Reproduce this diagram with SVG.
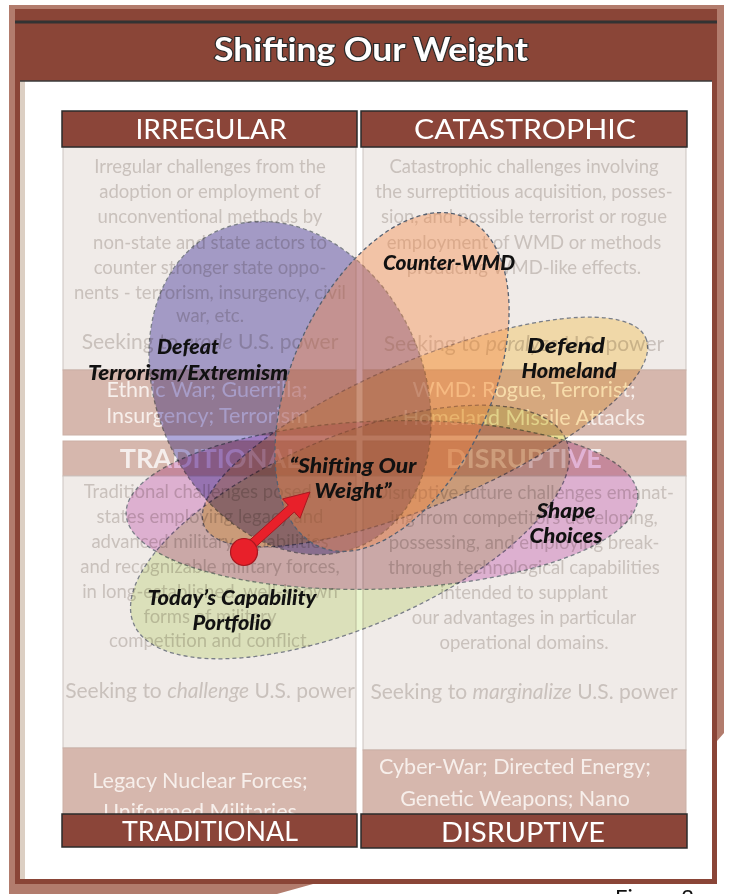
<svg xmlns="http://www.w3.org/2000/svg" width="730" height="894" viewBox="0 0 730 894">
<style>
.pt{font-family:Lato,"Open Sans",sans-serif;font-size:18.5px;fill:#c9c1bc;text-anchor:middle}
.sk{font-size:21px}
.bt{font-family:Lato,"Open Sans",sans-serif;font-size:21.5px;fill:#f7efeb;text-anchor:middle}
.fh{font-family:Lato,"Open Sans",sans-serif;font-size:27px;font-weight:700;fill:#f5eeec;text-anchor:middle}
.hd{font-family:Lato,"Open Sans",sans-serif;font-size:27px;fill:#ffffff;text-anchor:middle}
.lbl{font-family:Lato,"Open Sans",sans-serif;font-size:21px;font-weight:900;font-style:italic;fill:#111111;text-anchor:middle}
.light{fill:#f0ebe8;stroke:#cbc3bf;stroke-width:1}
.band{fill:#d6b7ad;stroke:#cbb0a6;stroke-width:1}
.box{fill:#8b4539;stroke:#2b2b2b;stroke-width:1.5}
.ell{stroke:#566070;stroke-width:1.3;stroke-dasharray:4 3}
.mul{mix-blend-mode:multiply;opacity:0.74}
</style>

<!-- frame -->
<g id="frame">
  <path d="M9,5 H724 V733 L717,741 V884 H313 L277,894 H9 Z" fill="#b27c6d"/>
  <rect x="15" y="9" width="702" height="875" fill="#8a4537"/>
  <line x1="15" y1="22" x2="717" y2="22" stroke="#333333" stroke-width="3"/>
  <rect x="20" y="81" width="6" height="798" fill="#dccfc3"/>
  <rect x="25" y="81" width="687" height="798" fill="#ffffff"/>
  <line x1="20" y1="81" x2="712" y2="81" stroke="#3a3a3a" stroke-width="1.5"/>
  <text x="371" y="61" font-family="Lato,'Open Sans',sans-serif" font-size="32" font-weight="700" fill="#ffffff" stroke="#2a2a2a" stroke-width="2.2" paint-order="stroke" text-anchor="middle" textLength="314" lengthAdjust="spacingAndGlyphs">Shifting Our Weight</text>
  <text x="615" y="905" font-family="Lato,'Open Sans',sans-serif" font-size="22" fill="#111111">Figure 2</text>
</g>

<!-- quadrants -->
<g id="irregular">
  <rect class="light" x="63" y="147" width="293" height="223"/>
  <rect class="band" x="63" y="370" width="293" height="65"/>
  <text class="pt" x="210" y="173">Irregular challenges from the</text>
  <text class="pt" x="210" y="198">adoption or employment of</text>
  <text class="pt" x="210" y="223">unconventional methods by</text>
  <text class="pt" x="210" y="249">non-state and state  actors to</text>
  <text class="pt" x="210" y="274">counter stronger state  oppo-</text>
  <text class="pt" x="210" y="299">nents - terrorism, insurgency, civil</text>
  <text class="pt" x="210" y="322">war, etc.</text>
  <text class="pt sk" x="210" y="349">Seeking to <tspan font-style="italic">erode</tspan>  U.S. power</text>
  <text class="bt" x="207" y="397">Ethnic War; Guerrilla;</text>
  <text class="bt" x="207" y="423">Insurgency; Terrorism</text>
</g>

<g id="catastrophic">
  <rect class="light" x="363" y="147" width="323" height="223"/>
  <rect class="band" x="363" y="370" width="323" height="65"/>
  <text class="pt" x="524" y="173">Catastrophic challenges involving</text>
  <text class="pt" x="524" y="198">the surreptitious acquisition, posses-</text>
  <text class="pt" x="524" y="223">sion, and possible terrorist or rogue</text>
  <text class="pt" x="524" y="249">employment of WMD or methods</text>
  <text class="pt" x="524" y="274">producing WMD-like effects.</text>
  <text class="pt sk" x="524" y="351">Seeking to <tspan font-style="italic">paralyze</tspan>  U.S. power</text>
  <text class="bt" x="524" y="397">WMD: Rogue, Terrorist;</text>
  <text class="bt" x="524" y="425">Homeland Missile Attacks</text>
</g>

<g id="traditional">
  <rect class="band" x="63" y="441" width="293" height="35"/>
  <rect class="light" x="63" y="476" width="293" height="272"/>
  <rect class="band" x="63" y="748" width="293" height="66"/>
  <text class="fh" x="210" y="468">TRADITIONAL</text>
  <text class="pt" x="210" y="498">Traditional challenges posed by</text>
  <text class="pt" x="210" y="523">states employing legacy and</text>
  <text class="pt" x="210" y="548">advanced military capabilities</text>
  <text class="pt" x="210" y="573">and recognizable military forces,</text>
  <text class="pt" x="210" y="598">in long-established, well-known</text>
  <text class="pt" x="210" y="623">forms of military</text>
  <text class="pt" x="210" y="647">competition and conflict.</text>
  <text class="pt sk" x="210" y="698">Seeking to <tspan font-style="italic">challenge</tspan> U.S.  power</text>
  <text class="bt" x="200" y="788">Legacy Nuclear Forces;</text>
  <text class="bt" x="200" y="819">Uniformed Militaries</text>
</g>

<g id="disruptive">
  <rect class="band" x="363" y="441" width="323" height="35"/>
  <rect class="light" x="363" y="476" width="323" height="274"/>
  <rect class="band" x="363" y="750" width="323" height="64"/>
  <text class="fh" x="524" y="468">DISRUPTIVE</text>
  <text class="pt" x="524" y="499">Disruptive future challenges emanat-</text>
  <text class="pt" x="524" y="524">ing from competitors developing,</text>
  <text class="pt" x="524" y="549">possessing, and employing break-</text>
  <text class="pt" x="524" y="574">through technological capabilities</text>
  <text class="pt" x="524" y="599">intended to supplant</text>
  <text class="pt" x="524" y="624">our advantages in particular</text>
  <text class="pt" x="524" y="649">operational domains.</text>
  <text class="pt sk" x="524" y="699">Seeking to <tspan font-style="italic">marginalize</tspan>  U.S.  power</text>
  <text class="bt" x="515" y="774">Cyber-War; Directed Energy;</text>
  <text class="bt" x="515" y="806">Genetic Weapons; Nano</text>
</g>

<!-- heading boxes -->
<g id="head-irregular"><rect class="box" x="62" y="111" width="295" height="36"/><text class="hd" x="211" y="139" textLength="151" lengthAdjust="spacingAndGlyphs">IRREGULAR</text></g>
<g id="head-catastrophic"><rect class="box" x="361" y="111" width="326" height="36"/><text class="hd" x="525" y="139" textLength="222" lengthAdjust="spacingAndGlyphs">CATASTROPHIC</text></g>
<g id="head-traditional"><rect class="box" x="62" y="814" width="295" height="33"/><text class="hd" x="210" y="841" textLength="176" lengthAdjust="spacingAndGlyphs">TRADITIONAL</text></g>
<g id="head-disruptive"><rect class="box" x="361" y="814" width="326" height="34"/><text class="hd" x="523" y="842" textLength="164" lengthAdjust="spacingAndGlyphs">DISRUPTIVE</text></g>

<!-- overlapping ellipses -->
<g id="todays-capability"><ellipse class="ell mul" cx="350" cy="532" rx="235" ry="95" transform="rotate(-23 350 532)" fill="#e2f0bc"/></g>
<g id="shape-choices"><ellipse class="ell mul" cx="382" cy="505" rx="256" ry="84" transform="rotate(-2 382 505)" fill="#e4a8dc"/></g>
<g id="defeat-terrorism"><ellipse class="ell mul" cx="290" cy="388" rx="133" ry="173" transform="rotate(-25 290 388)" fill="#9088cc"/></g>
<g id="defend-homeland"><ellipse class="ell mul" cx="425" cy="432" rx="240" ry="72" transform="rotate(-23 425 432)" fill="#ffe4a0"/></g>
<g id="counter-wmd"><ellipse class="ell" cx="392" cy="382" rx="100" ry="180" transform="rotate(24 392 382)" fill="#f58743" fill-opacity="0.4"/></g>

<!-- connectors -->
<g id="connectors">
  <polygon points="253,549.4 294.3,512 300,518.3 310,492 282.6,498.9 288.3,505.2 247,542.6" fill="#e8202a" stroke="#a81820" stroke-width="1"/>
  <circle cx="244" cy="552" r="13.5" fill="#e8202a" stroke="#a81820" stroke-width="1.2"/>
</g>

<!-- labels -->
<g id="labels">
  <text class="lbl" x="449" y="270" textLength="132" lengthAdjust="spacingAndGlyphs">Counter-WMD</text>
  <text class="lbl" x="188" y="354" textLength="62" lengthAdjust="spacingAndGlyphs">Defeat</text>
  <text class="lbl" x="188" y="380" textLength="200" lengthAdjust="spacingAndGlyphs">Terrorism/Extremism</text>
  <text class="lbl" x="566" y="353" textLength="78" lengthAdjust="spacingAndGlyphs">Defend</text>
  <text class="lbl" x="569" y="378" textLength="95" lengthAdjust="spacingAndGlyphs">Homeland</text>
  <text class="lbl" x="353" y="473" textLength="127" lengthAdjust="spacingAndGlyphs">“Shifting Our</text>
  <text class="lbl" x="353" y="498" textLength="77" lengthAdjust="spacingAndGlyphs">Weight”</text>
  <text class="lbl" x="566" y="518" textLength="59" lengthAdjust="spacingAndGlyphs">Shape</text>
  <text class="lbl" x="566" y="543" textLength="73" lengthAdjust="spacingAndGlyphs">Choices</text>
  <text class="lbl" x="232" y="605" textLength="169" lengthAdjust="spacingAndGlyphs">Today’s Capability</text>
  <text class="lbl" x="232" y="630" textLength="79" lengthAdjust="spacingAndGlyphs">Portfolio</text>
</g>
</svg>
